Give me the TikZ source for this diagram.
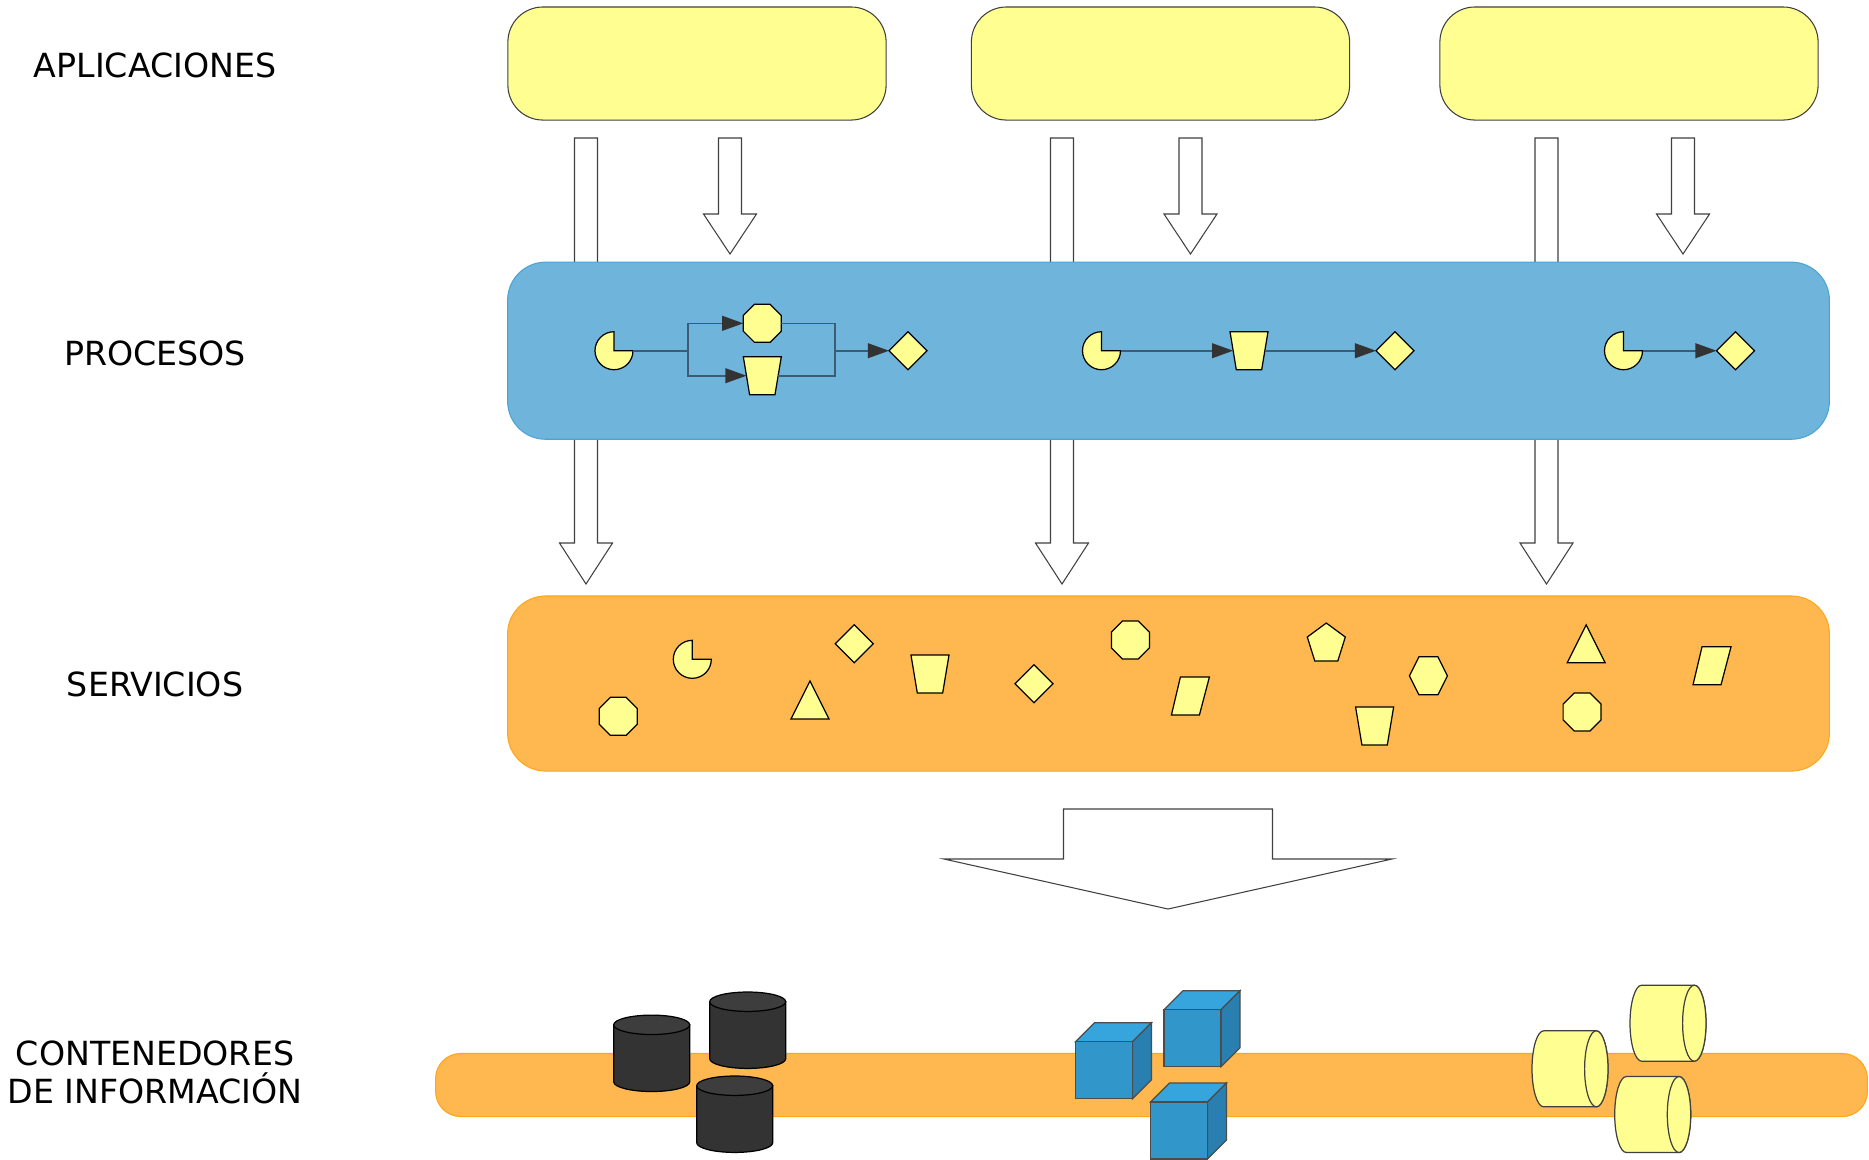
\documentclass[tikz,border=0pt]{standalone}
\usepackage{fontspec}
\setmainfont{DejaVu Sans}
\usetikzlibrary{arrows.meta,shapes.geometric}
\definecolor{amarillo}{HTML}{FFFF91}
\definecolor{azul}{HTML}{6FB4DB}
\definecolor{azulborde}{HTML}{4CA3D5}
\definecolor{naranja}{HTML}{FFB84F}
\definecolor{naranjaborde}{HTML}{FFA61A}
\definecolor{gris}{HTML}{333333}
\definecolor{linea}{HTML}{3D5C72}
\definecolor{cubofrente}{HTML}{3196CA}
\definecolor{cubotapa}{HTML}{36A5DD}
\definecolor{cubolado}{HTML}{2980B0}
\tikzset{
    etiqueta/.style={font=\fontsize{9.45}{10.8}\selectfont,align=center,inner sep=0},
    panel/.style={draw,line width=0.3pt,inner sep=0,outer sep=0},
    aplicacion/.style={panel,draw=black!75,fill=amarillo,rounded corners=0.35cm,minimum width=3.78cm,minimum height=1.13cm},
    proceso/.style={panel,draw=azulborde,fill=azul,rounded corners=0.38cm,minimum width=13.21cm,minimum height=1.77cm},
    servicio/.style={panel,draw=naranjaborde,fill=naranja,rounded corners=0.38cm,minimum width=13.21cm,minimum height=1.75cm},
    barra/.style={panel,draw=naranjaborde,fill=naranja,rounded corners=0.25cm,minimum width=14.31cm,minimum height=0.63cm},
    figura/.style={draw=black,fill=amarillo,line width=0.35pt,inner sep=0,outer sep=0},
    rombo/.style={figura,diamond,minimum width=0.38cm,minimum height=0.38cm},
    octagono/.style={figura,regular polygon,regular polygon sides=8,minimum size=0.411cm},
    trapecio/.style={figura,trapezium,shape border rotate=180,trapezium left angle=76,trapezium right angle=76,
        trapezium stretches=true,minimum width=0.38cm,minimum height=0.38cm,inner sep=0.5pt},
    conector/.style={draw=linea,line width=0.45pt},
    flujo/.style={conector,-{Triangle[length=6pt,width=4.2pt,color=gris]}},
    flecha/.style={draw=black!75,fill=white,line width=0.3pt},
    pacman/.pic={
        \draw[figura] (0,0) -- (0,-19) arc[start angle=270,end angle=0,x radius=19,y radius=19] -- cycle;
        \coordinate (-east) at (19,0);
    },
    triangulo/.pic={\draw[figura] (0,-19) -- (19,19) -- (-19,19) -- cycle;},
    pentagono/.pic={\draw[figura] (0,-19) -- (19,-5) -- (11.5,19) -- (-11.5,19) -- (-19,-5) -- cycle;},
    hexagono/.pic={\draw[figura] (-9.5,-19) -- (9.5,-19) -- (19,0) -- (9.5,19) -- (-9.5,19) -- (-19,0) -- cycle;},
    paralelo/.pic={\draw[figura] (-10,-19) -- (19,-19) -- (9,19) -- (-19,19) -- cycle;},
    flechalarga/.pic={\draw[flecha] (-11.5,0) -- (-11.5,405) -- (-26.5,405) -- (0,446) -- (26.5,405) -- (11.5,405) -- (11.5,0) -- cycle;},
    flechacorta/.pic={\draw[flecha] (-11.5,0) -- (-11.5,76) -- (-26.5,76) -- (0,116) -- (26.5,76) -- (11.5,76) -- (11.5,0) -- cycle;},
    flechagrande/.pic={\draw[flecha] (-104.5,0) -- (-104.5,50) -- (-224,50) -- (0,100) -- (224,50) -- (104.5,50) -- (104.5,0) -- cycle;},
    tambor/.pic={
        \draw[draw=black,fill=gris,line width=0.35pt] (-38,-28.5) -- (-38,28.5) arc[start angle=180,end angle=0,x radius=38,y radius=9.7] -- (38,-28.5) -- cycle;
        \draw[draw=black,fill=gris!95!white,line width=0.35pt] (0,-28.5) ellipse [x radius=38,y radius=9.7];
    },
    cubo/.pic={
        \draw[draw=black!70,fill=cubotapa,line width=0.35pt] (-28.5,-28.5) -- (-9.5,-47.5) -- (47.5,-47.5) -- (28.5,-28.5) -- cycle;
        \draw[draw=black!70,fill=cubolado,line width=0.35pt] (28.5,-28.5) -- (47.5,-47.5) -- (47.5,9.5) -- (28.5,28.5) -- cycle;
        \draw[draw=black!70,fill=cubofrente,line width=0.35pt] (-28.5,-28.5) rectangle (28.5,28.5);
    },
    rollo/.pic={
        \draw[draw=black!75,fill=amarillo,line width=0.35pt] (-26.3,-38) -- (26.3,-38) arc[start angle=270,end angle=450,x radius=11.7,y radius=38] -- (-26.3,38) arc[start angle=90,end angle=270,x radius=11.7,y radius=38] -- cycle;
        \draw[draw=black!75,fill=amarillo,line width=0.35pt] (26.3,0) ellipse [x radius=11.7,y radius=38];
    },
}
\begin{document}
\begin{tikzpicture}[x=0.01cm,y=-0.01cm]
    \useasboundingbox (0,0) rectangle (1869,1159);

    % flechas
    \pic (larga1) at (586,138) {flechalarga};
    \pic (larga2) at (1062,138) {flechalarga};
    \pic (larga3) at (1546.5,138) {flechalarga};
    \pic (corta1) at (730,138) {flechacorta};
    \pic (corta2) at (1190.5,138) {flechacorta};
    \pic (corta3) at (1683,138) {flechacorta};
    \pic (grande) at (1168,809) {flechagrande};

    % capas
    \node[aplicacion] (apl1) at (697,63.5) {};
    \node[aplicacion] (apl2) at (1160.5,63.5) {};
    \node[aplicacion] (apl3) at (1629,63.5) {};
    \node[proceso] (procesos) at (1168.5,350.7) {};
    \node[servicio] (servicios) at (1168.5,683.5) {};
    \node[barra] (datos) at (1151.5,1085) {};

    \node[etiqueta] (tapl) at (155,65.5) {APLICACIONES};
    \node[etiqueta] (tpro) at (155,353) {PROCESOS};
    \node[etiqueta] (tser) at (155,684) {SERVICIOS};
    \node[etiqueta] (tcon) at (155,1072) {CONTENEDORES\\DE INFORMACIÓN};

    % proceso 1
    \pic (pac1) at (614,350.7) {pacman};
    \node[octagono] (octa1) at (762.3,323.3) {};
    \node[trapecio] (trap1) at (762.3,375.7) {};
    \node[rombo] (rombo1) at (908,350.7) {};
    \coordinate (cruce1) at (688,350.7);
    \coordinate (cruce2) at (835,350.7);
    \draw[conector] (pac1-east) -- (cruce1);
    \draw[flujo] (cruce1) |- (octa1.west);
    \draw[flujo] (cruce1) |- (trap1.west);
    \draw[conector] (octa1.east) -| (cruce2);
    \draw[conector] (trap1.east) -| (cruce2);
    \draw[flujo] (cruce2) -- (rombo1.west);

    % proceso 2
    \pic (pac2) at (1101.5,350.7) {pacman};
    \node[trapecio] (trap2) at (1249,350.7) {};
    \node[rombo] (rombo2) at (1395,350.7) {};
    \draw[flujo] (pac2-east) -- (trap2.west);
    \draw[flujo] (trap2.east) -- (rombo2.west);

    % proceso 3
    \pic (pac3) at (1623.5,350.7) {pacman};
    \node[rombo] (rombo3) at (1735.5,350.7) {};
    \draw[flujo] (pac3-east) -- (rombo3.west);

    % servicios
    \pic (spac) at (692.3,659.3) {pacman};
    \node[octagono] (socta1) at (618.3,716.3) {};
    \pic (stri1) at (810,700) {triangulo};
    \node[rombo] (srombo1) at (854.3,643.7) {};
    \node[trapecio] (strap1) at (930,674) {};
    \node[rombo] (srombo2) at (1034,683.7) {};
    \node[octagono] (socta2) at (1130.4,640) {};
    \pic (spara1) at (1190.4,696) {paralelo};
    \pic (spent) at (1326.3,642) {pentagono};
    \pic (shex) at (1428.4,675.8) {hexagono};
    \node[trapecio] (strap2) at (1374.6,726) {};
    \pic (stri2) at (1586.2,643.8) {triangulo};
    \node[octagono] (socta3) at (1582.1,712) {};
    \pic (spara2) at (1712,665.8) {paralelo};

    % contenedores
    \pic (db1) at (651.7,1053.3) {tambor};
    \pic (db2) at (747.7,1030.2) {tambor};
    \pic (db3) at (734.7,1114.2) {tambor};
    \pic (cubo1) at (1104,1070.3) {cubo};
    \pic (cubo2) at (1192.5,1038.3) {cubo};
    \pic (cubo3) at (1179,1130.5) {cubo};
    \pic (rollo1) at (1570,1068.8) {rollo};
    \pic (rollo2) at (1668,1023.2) {rollo};
    \pic (rollo3) at (1652.7,1114.5) {rollo};
\end{tikzpicture}
\end{document}
